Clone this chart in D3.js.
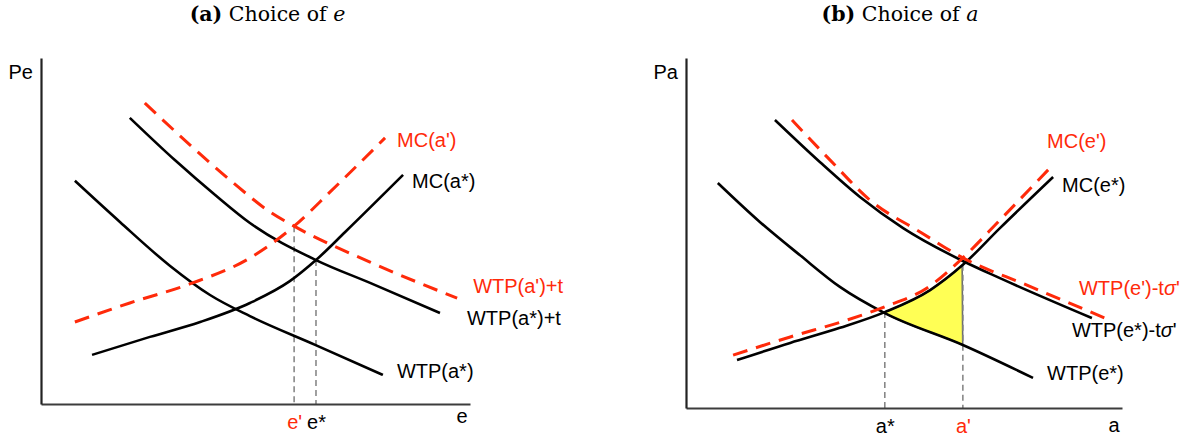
<html lang="en">

<head>
  <meta charset="utf-8">
  <title>Choice of e and a</title>
  <script type="text/javascript" src="https://d3js.org/d3.v7.min.js"></script>
  <style>
    body { margin: 0; background: #fff; }
    .lbl { font-family: "Liberation Sans", Arial, sans-serif; font-size: 20px; }
    .ttl { font-family: "DejaVu Serif", serif; font-size: 20.5px; }
  </style>
</head>

<body>
  <svg width="1197" height="437"></svg>
  <script>
    // ---- panel (a): choice of e, points as [e, Pe]
    const wtpAStar = [[0.79, 6.45], [1.84, 5.26], [3.01, 3.99], [3.94, 3.15], [4.87, 2.54], [6.39, 1.71], [7.97, 0.84]];
    const wtpAStarT = [[2.07, 8.27], [3.12, 7.05], [4.06, 6.04], [4.87, 5.23], [6.41, 4.16], [7.67, 3.50], [9.30, 2.63]];
    const mcAStar = [[1.19, 1.42], [2.54, 1.94], [3.71, 2.37], [4.87, 2.92], [5.80, 3.55], [6.41, 4.16], [7.09, 4.97], [8.44, 6.62]];
    const mcAPrime = [[0.79, 2.37], [2.07, 2.92], [3.47, 3.47], [4.87, 4.22], [5.90, 5.14], [6.74, 6.13], [8.02, 7.69]];
    const wtpAPrimeT = [[2.42, 8.70], [3.47, 7.49], [4.41, 6.47], [5.34, 5.55], [5.90, 5.14], [7.67, 4.10], [9.70, 3.06]];
    const eTicks = [5.90, 6.41];          // e', e*
    const eTickLabels = ["e'", "e*"];
    const eTickLevels = [5.14, 4.16];

    // ---- panel (b): choice of a, points as [a, Pa]
    const wtpEStar = [[0.73, 6.43], [1.70, 5.31], [2.61, 4.37], [3.53, 3.46], [4.56, 2.71], [6.35, 1.80], [7.96, 0.86]];
    const wtpEStarT = [[2.04, 8.23], [3.07, 7.03], [3.99, 6.03], [4.98, 5.14], [6.35, 4.20], [7.20, 3.71], [9.31, 2.57]];
    const mcEStar = [[1.17, 1.37], [2.39, 1.86], [3.53, 2.29], [4.56, 2.74], [5.60, 3.37], [6.35, 4.09], [7.20, 5.14], [8.42, 6.60]];
    const mcEPrime = [[1.08, 1.51], [2.39, 2.03], [3.69, 2.51], [4.56, 2.89], [5.53, 3.43], [6.35, 4.29], [7.20, 5.37], [8.35, 6.86]];
    const wtpEPrimeT = [[2.43, 8.23], [3.30, 7.09], [4.22, 5.94], [5.37, 5.03], [6.35, 4.29], [7.82, 3.51], [9.61, 2.57]];
    const aTicks = [4.56, 6.35];          // a*, a'
    const aTickLabels = ["a*", "a'"];
    const aTickLevels = [2.74, 4.09];

    const RED = "#ff2a0a";
    const svg = d3.select("svg");

    const line = (x, y) => d3.line()
      .x(d => x(d[0]))
      .y(d => y(d[1]))
      .curve(d3.curveMonotoneX);

    function samplePath(node) {
      const len = node.getTotalLength();
      const pts = [];
      for (let i = 0; i <= 400; i++) {
        const p = node.getPointAtLength(len * i / 400);
        pts.push([p.x, p.y]);
      }
      return pts;
    }

    function drawPanel(p) {
      const x = d3.scaleLinear().domain([0, 10]).range(p.xRange);
      const y = d3.scaleLinear().domain([0, 10]).range(p.yRange);
      const g = svg.append("g");
      const shade = g.append("g");
      const guides = g.append("g");
      const curves = g.append("g");

      // axes
      g.append("g")
        .attr("transform", `translate(0,${p.yRange[0]})`)
        .call(d3.axisBottom(x).tickValues(p.ticks).tickSize(0).tickPadding(11)
          .tickFormat((d, i) => p.tickLabels[i]))
        .call(a => a.select(".domain").attr("stroke", "#3c3c3c").attr("stroke-width", 2.2))
        .call(a => a.selectAll("text")
          .attr("class", "lbl")
          .attr("font-size", null).attr("font-family", null)
          .attr("fill", (d, i) => p.tickColors[i]));
      g.append("g")
        .attr("transform", `translate(${p.xRange[0]},0)`)
        .call(d3.axisLeft(y).tickValues([]).tickSizeOuter(0))
        .call(a => a.select(".domain").attr("stroke", "#222").attr("stroke-width", 2.2));

      g.append("text").attr("class", "lbl")
        .attr("x", p.xRange[0] - 8).attr("y", p.yRange[1] + 21)
        .attr("text-anchor", "end").text(p.yName);
      g.append("text").attr("class", "lbl")
        .attr("x", p.xRange[1] - 8).attr("y", p.yRange[0] + p.xNameDy)
        .attr("text-anchor", "middle").text(p.xName);

      // title
      const t = svg.append("text").attr("class", "ttl")
        .attr("x", (p.xRange[0] + p.xRange[1]) / 2 + p.titleDx).attr("y", 21)
        .attr("text-anchor", "middle");
      t.append("tspan").attr("font-weight", "bold").text(p.title[0]);
      t.append("tspan").text(p.title[1]);
      t.append("tspan").attr("font-style", "italic").text(p.title[2]);

      // vertical guides
      guides.selectAll("line").data(p.ticks).join("line")
        .attr("x1", d => x(d)).attr("x2", d => x(d))
        .attr("y1", (d, i) => y(p.tickLevels[i])).attr("y2", p.yRange[0])
        .attr("stroke", "#808080").attr("stroke-width", 1.5)
        .attr("stroke-dasharray", "6,4");

      // curves (black first, red dashed drawn over them)
      const paths = {};
      p.series.forEach(s => {
        const path = curves.append("path")
          .datum(s.data)
          .attr("d", line(x, y))
          .attr("fill", "none")
          .attr("stroke", s.red ? RED : "#000")
          .attr("stroke-width", s.red ? 3 : 2.6)
          .attr("stroke-dasharray", s.red ? "15,9" : null)
          .attr("stroke-linecap", "butt");
        paths[s.key] = path.node();
        const end = s.data[s.data.length - 1];
        const lt = g.append("text").attr("class", "lbl")
          .attr("x", x(end[0]) + s.dx).attr("y", y(end[1]) + s.dy)
          .attr("fill", s.red ? RED : "#000");
        s.label.forEach(part => {
          lt.append("tspan").attr("font-style", part[1] ? "italic" : null).text(part[0]);
        });
      });

      if (p.shade) {
        const x0 = x(p.ticks[0]), x1 = x(p.ticks[1]);
        const top = samplePath(paths[p.shade[0]]).filter(q => q[0] >= x0 && q[0] <= x1);
        const bot = samplePath(paths[p.shade[1]]).filter(q => q[0] >= x0 && q[0] <= x1).reverse();
        shade.append("path")
          .attr("d", "M" + top.concat(bot).map(q => q.join(",")).join("L") + "Z")
          .attr("fill", "#ffff55")
          .attr("stroke", "#6e6e6e")
          .attr("stroke-width", 1.6)
          .attr("stroke-linejoin", "round");
      }
    }

    drawPanel({
      xRange: [41, 470], yRange: [404, 58],
      xName: "e", yName: "Pe", xNameDy: 19, titleDx: 12,
      title: ["(a)", " Choice of ", "e"],
      ticks: eTicks, tickLabels: eTickLabels, tickLevels: eTickLevels, tickColors: [RED, "#000"],
      series: [
        { key: "wtp", data: wtpAStar, label: [["WTP(a*)"]], dx: 14, dy: 3 },
        { key: "wtpt", data: wtpAStarT, label: [["WTP(a*)+t"]], dx: 27, dy: 12 },
        { key: "mc", data: mcAStar, label: [["MC(a*)"]], dx: 9, dy: 13 },
        { key: "mcp", data: mcAPrime, red: true, label: [["MC(a')"]], dx: 12, dy: 9 },
        { key: "wtpp", data: wtpAPrimeT, red: true, label: [["WTP(a')+t"]], dx: 16, dy: -5 }
      ]
    });

    drawPanel({
      xRange: [686, 1122], yRange: [408, 58],
      xName: "a", yName: "Pa", xNameDy: 24, titleDx: -4,
      title: ["(b)", " Choice of ", "a"],
      ticks: aTicks, tickLabels: aTickLabels, tickLevels: aTickLevels, tickColors: ["#000", RED],
      shade: ["mc", "wtp"],
      series: [
        { key: "wtp", data: wtpEStar, label: [["WTP(e*)"]], dx: 14, dy: 2 },
        { key: "wtpt", data: wtpEStarT, label: [["WTP(e*)-t"], ["σ", true], ["'"]], dx: -20, dy: 19 },
        { key: "mc", data: mcEStar, label: [["MC(e*)"]], dx: 9, dy: 15 },
        { key: "mcp", data: mcEPrime, red: true, label: [["MC(e')"]], dx: -3, dy: -20 },
        { key: "wtpp", data: wtpEPrimeT, red: true, label: [["WTP(e')-t"], ["σ", true], ["'"]], dx: -26, dy: -23 }
      ]
    });
  </script>
</body>

</html>
